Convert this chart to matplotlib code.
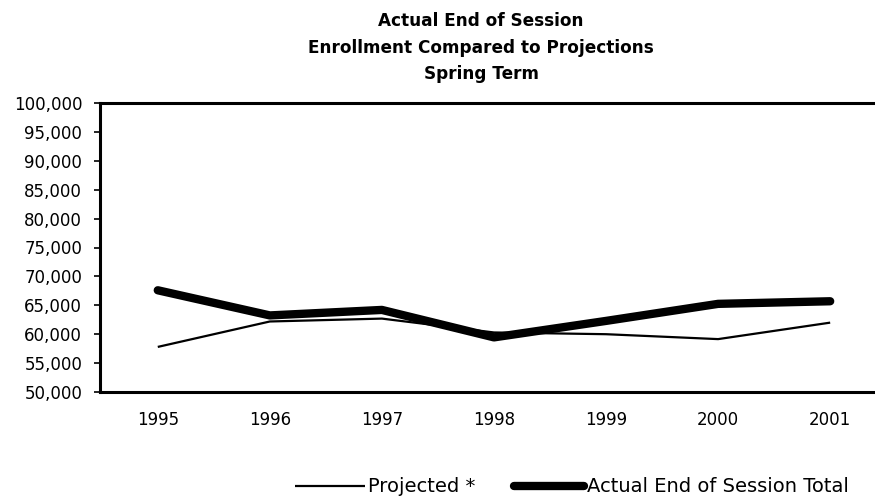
import matplotlib
matplotlib.use("Agg")
import matplotlib.pyplot as plt
from matplotlib.ticker import FuncFormatter, MultipleLocator

years = ["1995", "1996", "1997", "1998", "1999", "2000", "2001"]
projected = [57800, 62200, 62700, 60300, 60000, 59150, 62000]
actual = [67600, 63250, 64200, 59450, 62300, 65250, 65700]

plt.rcParams['font.family'] = ['DejaVu Sans']

fig = plt.figure(figsize=(8.75, 5.0), dpi=100)
ax = fig.add_axes([99.5/875, 1-392/500, (875-99.5)/875, (392-103)/500])

x = list(range(len(years)))
l1, = ax.plot(x, projected, color='black', lw=1.6, solid_capstyle='butt', zorder=3)
l2, = ax.plot(x, actual, color='black', lw=6.0, solid_capstyle='round', solid_joinstyle='round', zorder=2)

ax.set_ylim(50000, 100000)
ax.set_xlim(-0.52, 6.4)
ax.yaxis.set_major_locator(MultipleLocator(5000))
ax.yaxis.set_major_formatter(FuncFormatter(lambda v, p: f"{int(v):,}"))
ax.set_xticks(x)
ax.set_xticklabels(years)

ax.spines['right'].set_visible(False)
ax.spines['left'].set_linewidth(2.2)
ax.spines['bottom'].set_linewidth(2.2)
ax.spines['top'].set_linewidth(2.2)

ax.tick_params(axis='y', direction='out', length=4.5, width=1.2, labelsize=12, pad=8)
ax.tick_params(axis='x', length=0, labelsize=12, pad=14)

tx = 481/875
fig.text(tx, 1-26/500, "Actual End of Session", ha='center', va='baseline', fontsize=12.2, fontweight='bold')
fig.text(tx, 1-53/500, "Enrollment Compared to Projections", ha='center', va='baseline', fontsize=12.2, fontweight='bold')
fig.text(tx, 1-79/500, "Spring Term", ha='center', va='baseline', fontsize=12.2, fontweight='bold')

leg = fig.legend([l1, l2], ["Projected *", "Actual End of Session Total"],
                 loc='center left', bbox_to_anchor=(295/875, 1-487/500), ncol=2,
                 frameon=False, fontsize=14, handlelength=3.6, handletextpad=0.15,
                 columnspacing=2.0, borderaxespad=0, borderpad=0)

fig.savefig("out.png", dpi=100)
